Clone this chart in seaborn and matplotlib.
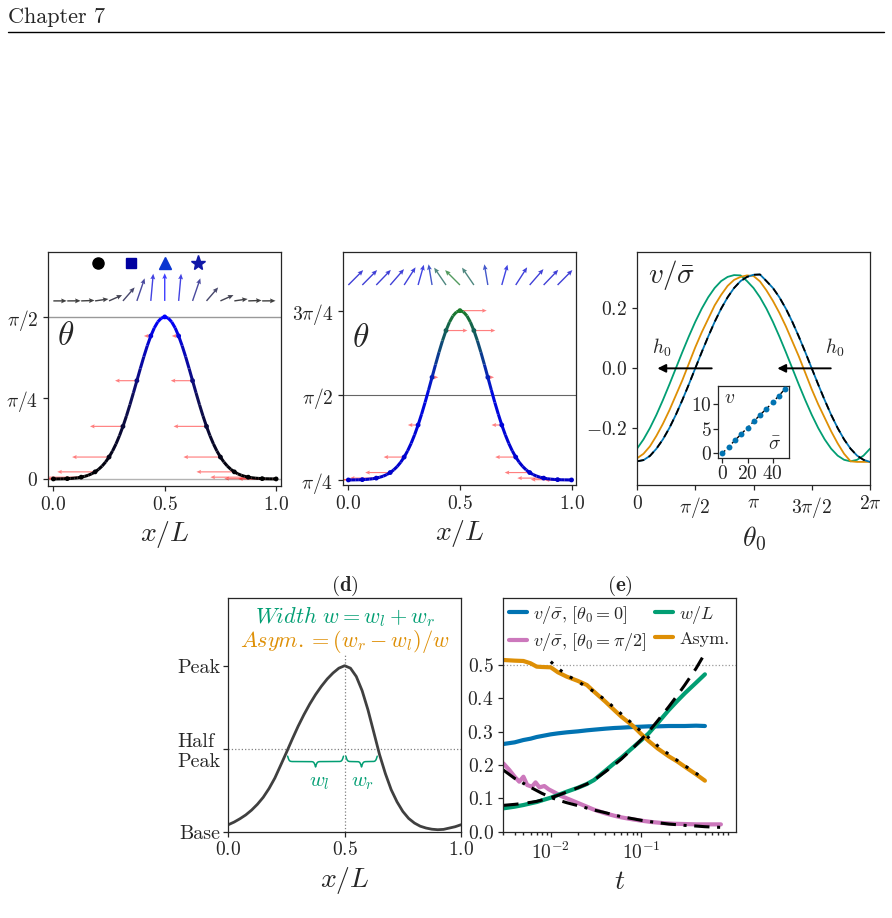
import numpy as np
import matplotlib
matplotlib.use("Agg")
import matplotlib.pyplot as plt
import seaborn as sns
from matplotlib.collections import LineCollection
from matplotlib.colors import LinearSegmentedColormap, Normalize
from matplotlib.lines import Line2D

# ---------------- (a) / (b) : domain wall profile theta(x), x = k/64
x_prof = np.linspace(0, 1, 65)
theta_a = [0.0005, 0.0009, 0.0014, 0.0022, 0.0034, 0.0053, 0.0080, 0.0119, 0.0175, 0.0252,
           0.0358, 0.0501, 0.0690, 0.0936, 0.1250, 0.1643, 0.2126, 0.2708, 0.3397, 0.4195,
           0.5100, 0.6104, 0.7192, 0.8343, 0.9527, 1.0712, 1.1857, 1.2921, 1.3862, 1.4642,
           1.5225, 1.5586, 1.5708, 1.5586, 1.5225, 1.4642, 1.3862, 1.2921, 1.1857, 1.0712,
           0.9527, 0.8343, 0.7192, 0.6104, 0.5100, 0.4195, 0.3397, 0.2708, 0.2126, 0.1643,
           0.1250, 0.0936, 0.0690, 0.0501, 0.0358, 0.0252, 0.0175, 0.0119, 0.0080, 0.0053,
           0.0034, 0.0022, 0.0014, 0.0009, 0.0005]
theta_b = [0.7859, 0.7863, 0.7868, 0.7876, 0.7888, 0.7907, 0.7934, 0.7973, 0.8029, 0.8106,
           0.8212, 0.8355, 0.8544, 0.8790, 0.9104, 0.9497, 0.9980, 1.0562, 1.1251, 1.2049,
           1.2954, 1.3958, 1.5046, 1.6197, 1.7381, 1.8566, 1.9711, 2.0775, 2.1716, 2.2496,
           2.3079, 2.3440, 2.3562, 2.3440, 2.3079, 2.2496, 2.1716, 2.0775, 1.9711, 1.8566,
           1.7381, 1.6197, 1.5046, 1.3958, 1.2954, 1.2049, 1.1251, 1.0562, 0.9980, 0.9497,
           0.9104, 0.8790, 0.8544, 0.8355, 0.8212, 0.8106, 0.8029, 0.7973, 0.7934, 0.7907,
           0.7888, 0.7876, 0.7868, 0.7863, 0.7859]
# horizontal velocity arrows at the dots (x = k/16)
vel_a = [-0.170, -0.170, -0.170, -0.170, -0.166, -0.148, -0.098, -0.031, 0.0,
         -0.031, -0.098, -0.148, -0.166, -0.170, -0.170, -0.170, -0.170]
vel_b = [-0.120, -0.120, -0.118, -0.112, -0.092, -0.046, 0.028, 0.096, 0.120,
         0.096, 0.028, -0.046, -0.092, -0.112, -0.118, -0.120, -0.120]

# ---------------- (c) : v/sigma vs theta0
theta0 = np.linspace(0, 2 * np.pi, 37)
v_blue = [-0.310, -0.306, -0.292, -0.268, -0.237, -0.199, -0.155, -0.106, -0.054, 0.000,
          0.054, 0.106, 0.155, 0.199, 0.237, 0.268, 0.291, 0.305, 0.312, 0.313,
          0.291, 0.268, 0.237, 0.199, 0.155, 0.106, 0.054, 0.000, -0.054, -0.106,
          -0.155, -0.199, -0.237, -0.268, -0.291, -0.305, -0.312]
v_orange = [-0.300, -0.285, -0.260, -0.225, -0.185, -0.140, -0.090, -0.040, 0.015, 0.070,
            0.120, 0.165, 0.210, 0.245, 0.275, 0.295, 0.305, 0.310, 0.308, 0.290,
            0.260, 0.225, 0.185, 0.140, 0.090, 0.040, -0.015, -0.070, -0.120, -0.165,
            -0.210, -0.250, -0.285, -0.310, -0.312, -0.312, -0.312]
v_green = [-0.268, -0.237, -0.199, -0.155, -0.106, -0.054, 0.000, 0.054, 0.106, 0.155,
           0.199, 0.237, 0.268, 0.291, 0.305, 0.311, 0.310, 0.291, 0.268, 0.237,
           0.199, 0.155, 0.106, 0.054, 0.000, -0.054, -0.106, -0.155, -0.199, -0.237,
           -0.268, -0.291, -0.305, -0.310, -0.305, -0.291, -0.268]
v_theory = v_blue
sig_in = [0, 5, 10, 15, 20, 25, 30, 35, 40, 45, 50]
v_in = [0.0, 1.35, 2.65, 3.95, 5.25, 6.55, 7.85, 9.1, 10.4, 11.8, 13.2]

# ---------------- (d) : generic profile
x_d = [0.0, 0.025, 0.05, 0.075, 0.1, 0.125, 0.15, 0.175, 0.2, 0.225, 0.25, 0.275, 0.3, 0.325,
       0.35, 0.375, 0.4, 0.425, 0.45, 0.475, 0.5, 0.525, 0.55, 0.575, 0.6, 0.625, 0.65, 0.675,
       0.7, 0.725, 0.75, 0.775, 0.8, 0.825, 0.85, 0.875, 0.9, 0.925, 0.95, 0.975, 1.0]
prof_d = [0.042, 0.058, 0.078, 0.101, 0.130, 0.165, 0.207, 0.260, 0.323, 0.400, 0.478, 0.558,
          0.635, 0.705, 0.769, 0.826, 0.876, 0.920, 0.956, 0.985, 1.000, 0.985, 0.935, 0.850,
          0.735, 0.600, 0.464, 0.350, 0.253, 0.180, 0.122, 0.080, 0.052, 0.033, 0.022, 0.015,
          0.012, 0.014, 0.022, 0.030, 0.042]

# ---------------- (e) : time evolution
t_e = [0.003, 0.004, 0.005, 0.006, 0.007, 0.008, 0.01, 0.012, 0.015, 0.02, 0.025, 0.03,
       0.04, 0.05, 0.06, 0.08, 0.1, 0.12, 0.15, 0.2, 0.25, 0.3, 0.4, 0.5]
e_blue = [0.263, 0.268, 0.275, 0.279, 0.284, 0.287, 0.292, 0.295, 0.298, 0.301, 0.304, 0.306,
          0.309, 0.311, 0.312, 0.314, 0.315, 0.316, 0.316, 0.317, 0.317, 0.317, 0.318, 0.317]
e_width = [0.070, 0.075, 0.080, 0.085, 0.089, 0.094, 0.102, 0.110, 0.120, 0.132, 0.143, 0.155,
           0.183, 0.205, 0.222, 0.252, 0.275, 0.295, 0.325, 0.365, 0.393, 0.415, 0.447, 0.472]
e_width_fit = [0.079, 0.082, 0.085, 0.088, 0.091, 0.095, 0.102, 0.109, 0.119, 0.132, 0.143, 0.155,
               0.180, 0.200, 0.218, 0.250, 0.277, 0.300, 0.332, 0.375, 0.410, 0.440, 0.490, 0.535]
e_asym = [0.515, 0.513, 0.512, 0.505, 0.495, 0.494, 0.493, 0.478, 0.465, 0.452, 0.440, 0.420,
          0.390, 0.365, 0.345, 0.318, 0.292, 0.272, 0.250, 0.226, 0.210, 0.195, 0.172, 0.153]
t_asym_fit = [0.01, 0.012, 0.015, 0.02, 0.03, 0.04, 0.05, 0.06, 0.08, 0.1, 0.12, 0.15, 0.2,
              0.25, 0.3, 0.4, 0.5]
e_asym_fit = [0.510, 0.490, 0.470, 0.450, 0.420, 0.395, 0.372, 0.353, 0.323, 0.300, 0.282,
              0.258, 0.232, 0.213, 0.198, 0.175, 0.157]
t_pink = [0.003, 0.0035, 0.004, 0.0045, 0.005, 0.0055, 0.0062, 0.0068, 0.0075, 0.0085, 0.0095,
          0.011, 0.013, 0.016, 0.02, 0.025, 0.03, 0.04, 0.05, 0.06, 0.08, 0.1, 0.13, 0.17,
          0.22, 0.3, 0.4, 0.5, 0.6, 0.75]
e_pink = [0.205, 0.185, 0.165, 0.150, 0.165, 0.140, 0.135, 0.148, 0.133, 0.137, 0.127,
          0.118, 0.107, 0.097, 0.086, 0.075, 0.066, 0.055, 0.048, 0.043, 0.037, 0.033, 0.029,
          0.026, 0.024, 0.023, 0.022, 0.022, 0.022, 0.022]
t_pink_fit = [0.003, 0.004, 0.005, 0.006, 0.008, 0.01, 0.012, 0.015, 0.02, 0.03, 0.04, 0.05,
              0.06, 0.08, 0.1, 0.15, 0.2, 0.3, 0.4, 0.5, 0.6, 0.75, 0.85]
e_pink_fit = [0.185, 0.160, 0.145, 0.133, 0.115, 0.103, 0.095, 0.087, 0.078, 0.065, 0.057,
              0.050, 0.045, 0.039, 0.034, 0.027, 0.023, 0.019, 0.017, 0.015, 0.014, 0.013, 0.012]

# ---------------------------------------------------------------- style
sns.set_theme(style="ticks", rc={"axes.linewidth": 0.9, "xtick.major.size": 3.5,
                                 "ytick.major.size": 3.5, "xtick.minor.size": 2,
                                 "xtick.major.width": 0.9, "ytick.major.width": 0.9})
plt.rcParams["font.family"] = ["cmr10"]
plt.rcParams["mathtext.fontset"] = "cm"
plt.rcParams["axes.formatter.use_mathtext"] = True
plt.rcParams["xtick.labelsize"] = 14
plt.rcParams["ytick.labelsize"] = 14
cb = sns.color_palette("colorblind")

W, H = 892, 918
fig = plt.figure(figsize=(W / 100, H / 100), dpi=100)


def box(l, t, r, b):
    return [l / W, 1 - b / H, (r - l) / W, (b - t) / H]


def brace(ax, x0, x1, y, depth, color):
    xs = np.linspace(x0, x1, 201)
    half = xs[:101]
    beta = 300.0
    yh = 1 / (1 + np.exp(-beta * (half - half[0]))) + 1 / (1 + np.exp(-beta * (half - half[-1])))
    yy = np.concatenate([yh, yh[-2::-1]])
    ax.plot(xs, y - (yy - 0.5) * depth, color=color, lw=1.1)


def profile_panel(ax, theta, vel, cmap, norm, row_y, lx, ly):
    th = np.asarray(theta)
    pts = np.column_stack([x_prof, th])
    segs = np.stack([pts[:-1], pts[1:]], axis=1)
    lc = LineCollection(segs, cmap=cmap, norm=norm, lw=2.2, zorder=3)
    lc.set_array((th[:-1] + th[1:]) / 2)
    ax.add_collection(lc)
    xd, td = x_prof[::4], th[::4]
    ax.scatter(xd, td, c=td, cmap=cmap, norm=norm, s=12, zorder=4, linewidths=0)
    ax.quiver(xd, td, vel, np.zeros(len(vel)), angles="xy", scale_units="xy", scale=1,
              color="red", alpha=0.5, width=0.005, headwidth=3.5, headlength=4,
              headaxislength=3.5, minlength=0, zorder=2)
    tt = td[:16]
    ax.quiver(xd[:16], np.full(16, row_y), lx * np.cos(tt), ly * np.sin(tt),
              color=cmap(norm(tt)), alpha=0.75, angles="xy", scale_units="xy", scale=1,
              width=0.006, headwidth=3.5, headlength=4, headaxislength=3.5, zorder=3)
    ax.set_xticks([0, 0.5, 1.0])
    ax.set_xlabel("$x/L$", fontsize=20)


# ---------------- (a)
cmap_a = LinearSegmentedColormap.from_list("a", ["#000000", "#10105a", "#0000ff"])
norm_a = Normalize(0, np.pi / 2)
ax_a = fig.add_axes(box(48, 252, 281, 486))
ax_a.axhline(0, color="0.7", lw=1, zorder=0)
ax_a.axhline(np.pi / 2, color="0.6", lw=1, zorder=0)
profile_panel(ax_a, theta_a, vel_a, cmap_a, norm_a, 1.726, 0.060, 0.268)
ax_a.plot(0.2, 2.09, "o", color="black", ms=8)
ax_a.plot(0.35, 2.09, "s", color="#0000a0", ms=7.5)
ax_a.plot(0.5, 2.09, "^", color="#0a35d0", ms=9)
ax_a.plot(0.65, 2.09, "*", color="#1018a8", ms=11)
ax_a.set_xlim(-0.024, 1.022)
ax_a.set_ylim(-0.068, 2.2)
ax_a.set_yticks([0, np.pi / 4, np.pi / 2], ["$0$", r"$\pi/4$", r"$\pi/2$"])
ax_a.text(0.04, 0.637, r"$\theta$", transform=ax_a.transAxes, fontsize=24, va="center")

# ---------------- (b)
cmap_b = LinearSegmentedColormap.from_list("b", [(0, "#0000c8"), (0.5, "#0008e0"), (1, "#1a7a2a")])
norm_b = Normalize(np.pi / 4, 3 * np.pi / 4)
ax_b = fig.add_axes(box(343, 252, 576, 485))
ax_b.axhline(np.pi / 2, color="0.4", lw=0.8, zorder=0)
profile_panel(ax_b, theta_b, vel_b, cmap_b, norm_b, 2.594, 0.094, 0.195)
ax_b.set_xlim(-0.024, 1.02)
ax_b.set_ylim(0.739, 2.90)
ax_b.set_yticks([np.pi / 4, np.pi / 2, 3 * np.pi / 4], [r"$\pi/4$", r"$\pi/2$", r"$3\pi/4$"])
ax_b.text(0.04, 0.629, r"$\theta$", transform=ax_b.transAxes, fontsize=24, va="center")

# ---------------- (c)
ax_c = fig.add_axes(box(637, 252, 870, 485))
sns.lineplot(x=theta0, y=v_green, color=cb[2], lw=1.3, ax=ax_c)
sns.lineplot(x=theta0, y=v_orange, color=cb[1], lw=1.3, ax=ax_c)
sns.lineplot(x=theta0, y=v_blue, color=cb[0], lw=1.3, ax=ax_c)
ax_c.plot(theta0, v_theory, color="black", lw=1.3, dashes=(4, 3))
for x0, x1 in [(2.09, 0.476), (5.30, 3.71)]:
    ax_c.annotate("", xy=(x1, 0), xytext=(x0, 0),
                  arrowprops=dict(arrowstyle="-|>", color="black", lw=1.4, mutation_scale=12))
ax_c.text(0.655, 0.067, "$h_0$", fontsize=14, ha="center", va="center")
ax_c.text(5.32, 0.067, "$h_0$", fontsize=14, ha="center", va="center")
ax_c.set_xlim(0, 2 * np.pi)
ax_c.set_ylim(-0.389, 0.388)
ax_c.set_xticks([0, np.pi / 2, np.pi, 3 * np.pi / 2, 2 * np.pi],
                ["$0$", r"$\pi/2$", r"$\pi$", r"$3\pi/2$", r"$2\pi$"])
ax_c.set_yticks([-0.2, 0.0, 0.2], ["$-0.2$", "$0.0$", "$0.2$"])
ax_c.set_xlabel(r"$\theta_0$", fontsize=20)
ax_c.text(0.046, 0.90, r"$v/\bar{\sigma}$", transform=ax_c.transAxes, fontsize=21, va="center")

ax_in = fig.add_axes(box(718.3, 385.7, 789, 458.3))
ax_in.plot(sig_in, v_in, color="black", lw=1, dashes=(3, 2))
sns.scatterplot(x=sig_in, y=v_in, color=cb[0], s=18, linewidth=0, ax=ax_in, zorder=3)
ax_in.set_xlim(-3.2, 52.9)
ax_in.set_ylim(-1.0, 13.8)
ax_in.set_xticks([0, 20, 40])
ax_in.set_yticks([0, 5, 10])
ax_in.tick_params(labelsize=14, pad=1)
ax_in.text(0.08, 0.76, "$v$", transform=ax_in.transAxes, fontsize=14)
ax_in.text(0.7, 0.12, r"$\bar{\sigma}$", transform=ax_in.transAxes, fontsize=14)

# ---------------- (d)
ax_d = fig.add_axes(box(228.3, 598.3, 461, 831.7))
ax_d.axhline(0.5, color="0.5", ls=":", lw=0.9)
ax_d.plot([0.5, 0.5], [0, 1.07], color="0.5", ls=":", lw=0.9)
sns.lineplot(x=x_d, y=prof_d, color="#404040", lw=2, ax=ax_d)
brace(ax_d, 0.255, 0.495, 0.455, 0.065, cb[2])
brace(ax_d, 0.505, 0.640, 0.455, 0.065, cb[2])
ax_d.text(0.39, 0.293, "$w_l$", color=cb[2], fontsize=15, ha="center", va="center")
ax_d.text(0.577, 0.293, "$w_r$", color=cb[2], fontsize=15, ha="center", va="center")
ax_d.text(0.5, 0.921, r"$Width\ w = w_l + w_r$", color=cb[2], fontsize=16,
          ha="center", va="center", transform=ax_d.transAxes)
ax_d.text(0.5, 0.814, r"$Asym. = (w_r - w_l)/w$", color=cb[1], fontsize=16,
          ha="center", va="center", transform=ax_d.transAxes)
ax_d.set_xlim(0, 1)
ax_d.set_ylim(0, 1.406)
ax_d.set_xticks([0, 0.5, 1.0])
ax_d.set_yticks([0, 0.5, 1.0], ["Base", "Half\nPeak", "Peak"])
for lab in ax_d.get_yticklabels():
    lab.set_multialignment("left")
ax_d.tick_params(axis="y", labelsize=14.5, pad=2)
ax_d.set_xlabel("$x/L$", fontsize=20)
ax_d.set_title(r"$\mathbf{(d)}$", fontsize=15, pad=5)

# ---------------- (e)
ax_e = fig.add_axes(box(503.3, 598.3, 736, 831.7))
ax_e.axhline(0.5, color="0.6", ls=":", lw=0.9)
sns.lineplot(x=t_e, y=e_blue, color=cb[0], lw=3, ax=ax_e, label=r"$v/\bar{\sigma},\,[\theta_0=0]$")
sns.lineplot(x=t_pink, y=e_pink, color=cb[4], lw=3, ax=ax_e, label=r"$v/\bar{\sigma},\,[\theta_0=\pi/2]$")
sns.lineplot(x=t_e, y=e_width, color=cb[2], lw=3, ax=ax_e, label="$w/L$")
sns.lineplot(x=t_e, y=e_asym, color=cb[1], lw=3, ax=ax_e, label="Asym.")
ax_e.plot(t_e, e_width_fit, color="black", lw=2.2, dashes=(5, 3))
ax_e.plot(t_asym_fit, e_asym_fit, color="black", lw=2.2, dashes=(1, 3))
ax_e.plot(t_pink_fit, e_pink_fit, color="black", lw=2.2, dashes=(5, 2.5, 1, 2.5))
ax_e.set_xscale("log")
ax_e.set_xlim(0.003, 1.1)
ax_e.set_ylim(0, 0.70)
ax_e.set_xticks([0.01, 0.1])
ax_e.set_yticks([0, 0.1, 0.2, 0.3, 0.4, 0.5])
ax_e.set_xlabel("$t$", fontsize=20)
ax_e.set_title(r"$\mathbf{(e)}$", fontsize=15, pad=5)
ax_e.legend(loc="upper left", ncol=2, frameon=False, fontsize=13, handlelength=1.0,
            handletextpad=0.35, columnspacing=0.45, borderaxespad=0.1, labelspacing=0.3,
            borderpad=0.2)

# ---------------- page header
fig.text(8 / W, 1 - 17 / H, "Chapter 7", fontsize=16, ha="left", va="center")
fig.add_artist(Line2D([8 / W, 884 / W], [1 - 32 / H, 1 - 32 / H], color="black", lw=1))

fig.savefig("out.png", dpi=100)
